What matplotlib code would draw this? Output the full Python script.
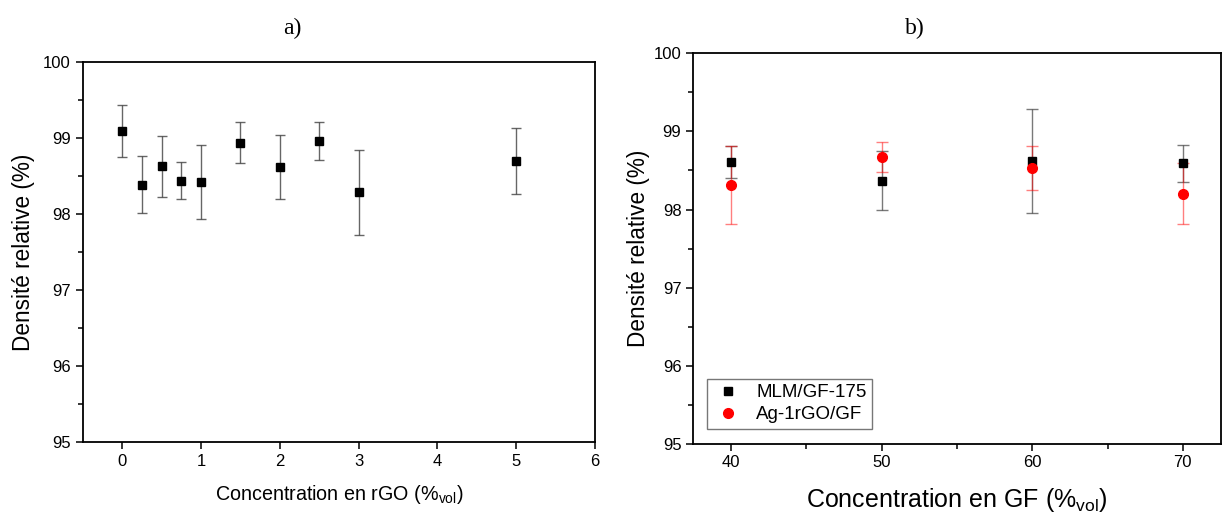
import matplotlib
matplotlib.use("Agg")
import matplotlib.pyplot as plt
from matplotlib.ticker import MultipleLocator

plt.rcParams["font.family"] = ["Liberation Sans", "DejaVu Sans"]
plt.rcParams["mathtext.fontset"] = "custom"
plt.rcParams["mathtext.rm"] = "Liberation Sans"
plt.rcParams["mathtext.it"] = "Liberation Sans:italic"

# panel a: relative density vs rGO content
rgo_conc = [0, 0.25, 0.5, 0.75, 1, 1.5, 2, 2.5, 3, 5]
rgo_dens = [99.09, 98.39, 98.63, 98.44, 98.42, 98.94, 98.62, 98.96, 98.29, 98.70]
rgo_err = [0.34, 0.38, 0.40, 0.24, 0.49, 0.27, 0.42, 0.25, 0.56, 0.44]

# panel b: relative density vs GF content
gf_conc = [40, 50, 60, 70]
mlm_dens = [98.61, 98.37, 98.62, 98.59]
mlm_err = [0.20, 0.38, 0.67, 0.24]
ag_dens = [98.31, 98.67, 98.53, 98.20]
ag_err = [0.50, 0.19, 0.28, 0.39]

fig = plt.figure(figsize=(12.22, 5.14), dpi=100)
ax_a = fig.add_axes([0.0677, 0.140, 0.4192, 0.739])
ax_b = fig.add_axes([0.5673, 0.137, 0.4315, 0.759])


def style_axis(ax, pad):
    for side in ax.spines.values():
        side.set_linewidth(1.3)
    ax.tick_params(which="both", direction="out", top=False, right=False,
                   labelsize=12, width=1.1)
    ax.tick_params(which="major", length=5)
    ax.tick_params(which="minor", length=3.5)
    ax.set_ylim(95, 100)
    ax.yaxis.set_major_locator(MultipleLocator(1))
    ax.yaxis.set_minor_locator(MultipleLocator(0.5))
    ax.set_ylabel("Densité relative (%)", fontsize=16.3, labelpad=pad)


ax_a.errorbar(rgo_conc, rgo_dens, yerr=rgo_err, fmt="s", color="black",
              markersize=6.2, ecolor=(0.25, 0.25, 0.25, 0.8), elinewidth=1.0,
              capsize=3.5, capthick=1.0)
ax_a.set_xlim(-0.5, 6)
ax_a.xaxis.set_major_locator(MultipleLocator(1))
style_axis(ax_a, 6)
ax_a.set_xlabel(r"Concentration en rGO (%$_{\mathrm{vol}}$)", fontsize=14.2, labelpad=10)

ax_b.errorbar(gf_conc, mlm_dens, yerr=mlm_err, fmt="s", color="black",
              markersize=6, ecolor=(0.25, 0.25, 0.25, 0.7), elinewidth=1.0,
              capsize=4, capthick=1.0, label="MLM/GF-175")
ax_b.errorbar(gf_conc, ag_dens, yerr=ag_err, fmt="o", color="red",
              markersize=7, ecolor=(1, 0, 0, 0.5), elinewidth=1.0,
              capsize=4, capthick=1.0, label="Ag-1rGO/GF")
ax_b.set_xlim(37.5, 72.5)
ax_b.xaxis.set_major_locator(MultipleLocator(10))
ax_b.xaxis.set_minor_locator(MultipleLocator(5))
style_axis(ax_b, 3)
ax_b.set_xlabel(r"Concentration en GF (%$_{\mathrm{vol}}$)", fontsize=18, labelpad=11)

fig.text(292 / 1222, 1 - 28 / 514, "a)", fontsize=17, family="Liberation Serif",
         ha="center", va="center")
fig.text(915 / 1222, 1 - 28 / 514, "b)", fontsize=17, family="Liberation Serif",
         ha="center", va="center")

handles, labels = ax_b.get_legend_handles_labels()
handles = [h[0] for h in handles]
leg = ax_b.legend(handles, labels, loc="lower left",
                  bbox_to_anchor=(0.027, 0.038), fontsize=13.5, fancybox=False,
                  edgecolor="#555555", handletextpad=0.7, borderpad=0.3,
                  handlelength=1.6, labelspacing=0.25, borderaxespad=0)
leg.get_frame().set_linewidth(1.0)

fig.savefig("out.png", dpi=100)
